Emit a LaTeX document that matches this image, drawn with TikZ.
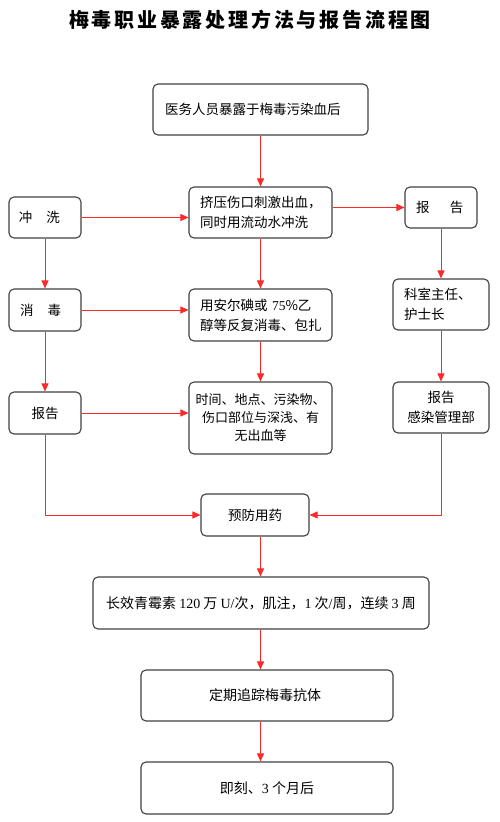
\documentclass[tikz,border=0pt]{standalone}
\usepackage{fontspec}
\setmainfont{Noto Sans CJK SC}
\newfontfamily\lat{Liberation Serif}
\usetikzlibrary{arrows.meta}
\definecolor{linered}{RGB}{255,40,40}
\definecolor{boxgray}{RGB}{64,64,64}
\tikzset{
  box/.style={draw=boxgray, line width=1.1pt, rounded corners=5pt, inner sep=0pt,
    font=\fontsize{13.5}{20}\selectfont},
  conn/.style={draw=linered, line width=0.9pt, -{Triangle[length=8pt,width=7pt]}},
}
\begin{document}
\begin{tikzpicture}[x=1pt,y=-1pt]
\useasboundingbox (0,0) rectangle (499,822);
\node[font=\fontsize{20}{24}\selectfont\bfseries\addfontfeature{LetterSpace=14}] (title) at (250,20) {梅毒职业暴露处理方法与报告流程图};

\node[box, minimum width=215pt, minimum height=51pt, text width=191pt, align=left] (b1) at (260.5,109.5) {医务人员暴露于梅毒污染血后};
\node[box, minimum width=143pt, minimum height=51pt, text width=121pt, align=left] (b2) at (260.5,212.5) {挤压伤口刺激出血，\\同时用流动水冲洗};
\node[box, minimum width=72pt, minimum height=41pt, text width=52pt, align=left] (chong) at (45,217.5) {冲\hspace{14pt}洗};
\node[box, minimum width=72pt, minimum height=41pt, text width=50pt, align=left] (baoR) at (441,207.5) {报\hspace{20.5pt}告};

\node[box, minimum width=72pt, minimum height=42pt, text width=50pt, align=left] (xiao) at (45,310) {消\hspace{14pt}毒};
\node[box, minimum width=143pt, minimum height=52pt, text width=121pt, align=left] (b3) at (260.5,315) {用安尔碘或 {\lat 75}\%乙\\醇等反复消毒、包扎};
\node[box, minimum width=96pt, minimum height=51pt, text width=74pt, align=left] (keshi) at (441,304.5) {科室主任、\\护士长};

\node[box, minimum width=72pt, minimum height=42pt, align=center] (baoL) at (45,413) {报告};
\node[box, minimum width=143pt, minimum height=72pt, align=center, font=\fontsize{13}{18}\selectfont] (b4) at (260.5,418) {时间、地点、污染物、\\伤口部位与深浅、有\\无出血等};
\node[box, minimum width=96pt, minimum height=51pt, align=center] (ganran) at (441,407.5) {报告\\感染管理部};

\node[box, minimum width=108pt, minimum height=42pt, align=center] (yufang) at (255,515) {预防用药};
\node[box, minimum width=336pt, minimum height=52pt, align=center, font=\fontsize{14}{20}\selectfont] (changxiao) at (261,603) {长效青霉素 {\lat 120} 万 {\lat U/}次，肌注，{\lat 1} 次{\lat /}周，连续 {\lat 3} 周};
\node[box, minimum width=252pt, minimum height=51pt, align=center, font=\fontsize{14}{20}\selectfont] (dingqi) at (267,695.5) {\hspace{-4pt}定期追踪梅毒抗体};
\node[box, minimum width=252pt, minimum height=52pt, align=center, font=\fontsize{14}{20}\selectfont] (jike) at (267,788) {即刻、{\lat 3} 个月后};

% connectors
\draw[conn] (b1.south) -- (b2.north);
\draw[conn] (chong.east) -- (chong.east -| b2.west);
\draw[conn] (b2.east |- baoR.west) -- (baoR.west);
\draw[conn] (chong.south) -- (xiao.north);
\draw[conn] (b2.south) -- (b3.north);
\draw[conn] (baoR.south) -- (keshi.north);
\draw[conn] (xiao.east) -- (xiao.east -| b3.west);
\draw[conn] (xiao.south) -- (baoL.north);
\draw[conn] (b3.south) -- (b4.north);
\draw[conn] (keshi.south) -- (ganran.north);
\draw[conn] (baoL.east) -- (baoL.east -| b4.west);
\draw[conn] (baoL.south) |- (yufang.west);
\draw[conn] (ganran.south) |- (yufang.east);
\draw[conn] (yufang.south -| b2.south) -- (changxiao.north -| b2.south);
\draw[conn] (changxiao.south -| b2.south) -- (dingqi.north -| b2.south);
\draw[conn] (dingqi.south -| b2.south) -- (jike.north -| b2.south);
\end{tikzpicture}
\end{document}
